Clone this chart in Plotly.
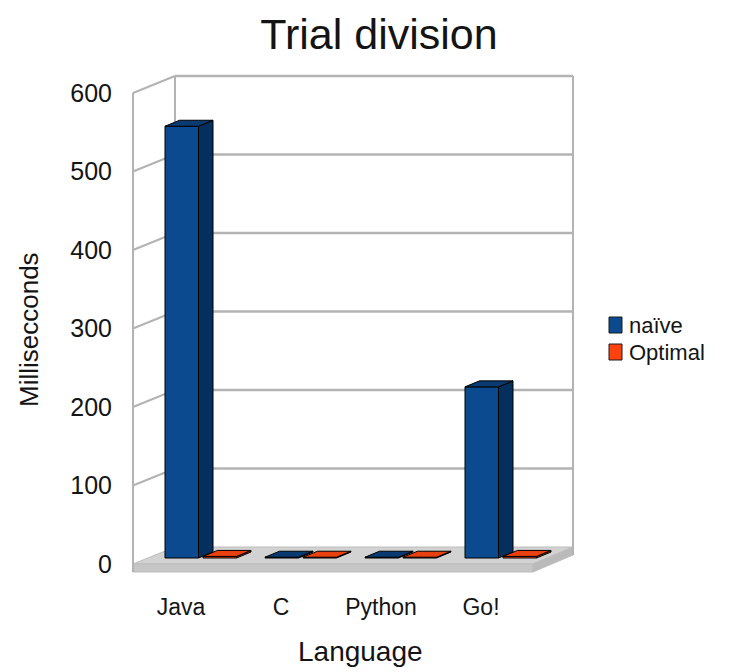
import plotly.graph_objects as go

# ---- data ----
languages = ["Java", "C", "Python", "Go!"]
naive = [550, 1, 1, 218]
optimal = [2, 1, 1, 2]
series_names = ["naïve", "Optimal"]
y_ticks = [0, 100, 200, 300, 400, 500, 600]

# ---- pseudo-3D geometry (axis units) ----
PX_Y = 0.785            # pixels per y unit
DXW = 0.42              # wall depth in x units
DYW = 17 / PX_Y         # wall depth in y units
BAR_W = 0.335
BAR_OFF = [0.32, 0.70]
BASE = 6 / PX_Y
BDX = 0.145
BDY = 6 / PX_Y
FLOOR_T = 8 / PX_Y
N = len(languages)
XMAX = N + DXW - 0.02

front_cols = ["#0b4a8e", "#ff420e"]
side_cols = ["#052f5c", "#b52f08"]
top_cols = ["#0a3a72", "#e8400e"]
grid_col = "#b3b3b3"
font_fam = "Liberation Sans, Arial, sans-serif"
txt_col = "#141414"

# page layout (pixels)
L, R, T, B = 128, 158, 70, 94
PW, PH = 736 - L - R, 672 - T - B


def px(p):
    return (p - L) / PW


def py(p):
    return (672 - B - p) / PH


fig = go.Figure()
for s, vals in enumerate([naive, optimal]):
    fig.add_trace(go.Bar(
        x=[i + BAR_OFF[s] + BAR_W / 2 for i in range(N)],
        y=vals, base=BASE, width=BAR_W, name=series_names[s],
        marker=dict(color=front_cols[s], line=dict(color="#000000", width=1)),
        showlegend=False,
    ))

shapes = []
# floor slab
shapes.append(dict(type="path", layer="below", xref="x", yref="y",
                   path=f"M0,0 L{N},0 L{XMAX},{DYW} L{DXW},{DYW} Z",
                   fillcolor="#d2d2d2", line=dict(color="#bdbdbd", width=1)))
shapes.append(dict(type="path", layer="below", xref="x", yref="y",
                   path=f"M0,0 L{N},0 L{N},{-FLOOR_T} L0,{-FLOOR_T} Z",
                   fillcolor="#c6c6c6", line=dict(color="#bdbdbd", width=1)))
shapes.append(dict(type="path", layer="below", xref="x", yref="y",
                   path=f"M{N},0 L{XMAX},{DYW} L{XMAX},{DYW - FLOOR_T} L{N},{-FLOOR_T} Z",
                   fillcolor="#bababa", line=dict(color="#bdbdbd", width=1)))
# walls
top = y_ticks[-1]
shapes.append(dict(type="line", layer="below", xref="x", yref="y",
                   x0=0, y0=-FLOOR_T, x1=0, y1=top, line=dict(color=grid_col, width=2)))
shapes.append(dict(type="line", layer="below", xref="x", yref="y",
                   x0=DXW, y0=DYW, x1=DXW, y1=top + DYW, line=dict(color=grid_col, width=2)))
shapes.append(dict(type="line", layer="below", xref="x", yref="y",
                   x0=XMAX, y0=DYW - FLOOR_T, x1=XMAX, y1=top + DYW, line=dict(color=grid_col, width=2)))
for v in y_ticks[1:]:
    shapes.append(dict(type="line", layer="below", xref="x", yref="y",
                       x0=DXW, y0=v + DYW, x1=XMAX, y1=v + DYW, line=dict(color=grid_col, width=2.5)))
    shapes.append(dict(type="line", layer="below", xref="x", yref="y",
                       x0=0, y0=v, x1=DXW, y1=v + DYW, line=dict(color=grid_col, width=2)))

# bar side and top faces
for s, vals in enumerate([naive, optimal]):
    for i, v in enumerate(vals):
        x0 = i + BAR_OFF[s]
        x1 = x0 + BAR_W
        y0 = BASE
        y1 = BASE + v
        shapes.append(dict(type="path", layer="above", xref="x", yref="y",
                           path=f"M{x1},{y0} L{x1 + BDX},{y0 + BDY} L{x1 + BDX},{y1 + BDY} L{x1},{y1} Z",
                           fillcolor=side_cols[s], line=dict(color="#000000", width=1)))
        shapes.append(dict(type="path", layer="above", xref="x", yref="y",
                           path=f"M{x0},{y1} L{x1},{y1} L{x1 + BDX},{y1 + BDY} L{x0 + BDX},{y1 + BDY} Z",
                           fillcolor=top_cols[s], line=dict(color="#000000", width=1)))

# legend (symbols + text)
annotations = []
leg_y = [325, 352]
for s, name in enumerate(series_names):
    shapes.append(dict(type="rect", xref="paper", yref="paper", layer="above",
                       x0=px(609), x1=px(622), y0=py(leg_y[s] + 8), y1=py(leg_y[s] - 8),
                       fillcolor=front_cols[s], line=dict(color="#1a1a1a", width=1)))
    annotations.append(dict(text=name, xref="paper", yref="paper", x=px(627), y=py(leg_y[s]),
                            xanchor="left", yanchor="middle", showarrow=False,
                            font=dict(size=22, family=font_fam, color=txt_col)))

annotations += [
    dict(text="Millisecconds", xref="paper", yref="paper",
         x=px(29), y=py(330), textangle=-90,
         showarrow=False, font=dict(size=26), xanchor="center", yanchor="middle"),
    dict(text="Language", xref="paper", yref="paper",
         x=px(360), y=py(651),
         showarrow=False, font=dict(size=28), xanchor="center", yanchor="middle"),
]

fig.update_layout(
    width=736, height=672,
    margin=dict(l=L, r=R, t=T, b=B),
    paper_bgcolor="white", plot_bgcolor="white",
    barmode="overlay",
    font=dict(family=font_fam, color=txt_col),
    title=dict(text="Trial division", x=379 / 736, xanchor="center",
               y=1 - 34 / 672, yanchor="middle",
               font=dict(size=43, family=font_fam, color=txt_col)),
    xaxis=dict(range=[-0.05, 4.45], showgrid=False, zeroline=False, showline=False,
               tickvals=[i + 0.48 for i in range(N)], ticktext=languages,
               ticks="", tickfont=dict(size=23), ticklabelstandoff=13,
               fixedrange=True),
    yaxis=dict(range=[-(578 - 564) / PX_Y, (564 - 70) / PX_Y], showgrid=False,
               zeroline=False, showline=False, tickvals=y_ticks, ticks="",
               tickfont=dict(size=25), ticklabelstandoff=15, fixedrange=True),
    shapes=shapes,
    showlegend=False,
    annotations=annotations,
)

fig.write_html("out.html")
